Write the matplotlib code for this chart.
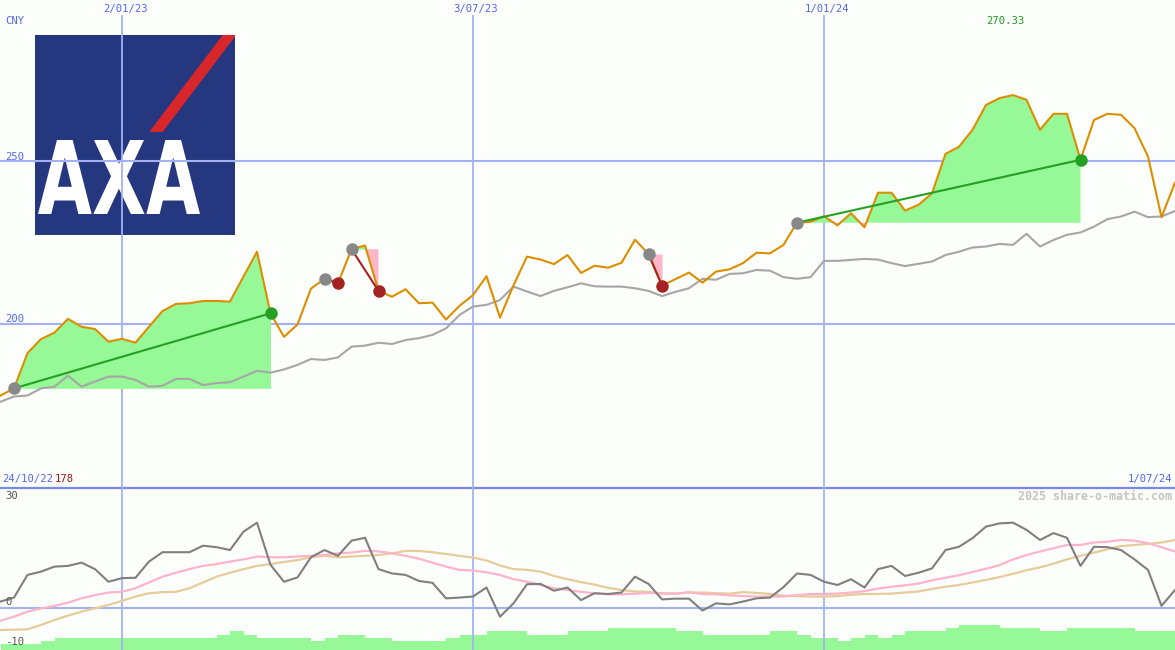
import numpy as np
import pandas as pd
import matplotlib
matplotlib.use('Agg')
import matplotlib.pyplot as plt
import matplotlib.dates as mdates
from matplotlib.textpath import TextPath
from matplotlib.patches import PathPatch, Rectangle, Polygon
from matplotlib.font_manager import FontProperties
from matplotlib.transforms import Affine2D

# ---------------- data ----------------
first_date = '2022-10-31'
n_weeks = 88

price = [178.2, 180.4, 191.2, 195.5, 197.5, 201.7, 199.3, 198.6, 194.7, 195.6,
         194.4, 199.3, 204.1, 206.3, 206.5, 207.2, 207.2, 207.0, 214.7, 222.3,
         203.4, 196.2, 200.0, 211.0, 214.0, 212.6, 223.1, 224.2, 210.3, 208.5,
         210.8, 206.5, 206.7, 201.5, 205.7, 209.0, 214.8, 202.1, 212.0, 220.8,
         219.9, 218.5, 221.3, 215.8, 218.0, 217.4, 218.9, 226.0, 221.6, 211.9,
         213.9, 215.9, 212.8, 216.2, 216.9, 218.8, 222.0, 221.8, 224.4, 231.2,
         231.5, 233.2, 230.4, 234.1, 229.8, 240.4, 240.4, 234.9, 236.7, 240.2,
         252.3, 254.5, 259.7, 267.3, 269.4, 270.33, 268.9, 259.7, 264.6, 264.6,
         250.5, 262.7, 264.6, 264.3, 260.2, 251.5, 232.9, 243.5]

benchmark = [176.3, 177.9, 178.2, 180.4, 180.9, 184.3, 180.9, 182.5, 184.0, 184.0,
             183.0, 180.9, 181.2, 183.3, 183.3, 181.4, 182.0, 182.3, 184.0, 185.8,
             185.2, 186.2, 187.6, 189.4, 189.1, 189.9, 193.2, 193.5, 194.4, 194.0,
             195.2, 195.8, 196.8, 198.8, 202.9, 205.5, 206.0, 207.5, 211.6, 210.1,
             208.7, 210.3, 211.4, 212.6, 211.7, 211.6, 211.6, 211.1, 210.3, 208.7,
             210.0, 211.1, 214.0, 213.7, 215.5, 215.7, 216.7, 216.5, 214.5, 214.0,
             214.5, 219.5, 219.5, 219.8, 220.1, 219.9, 218.8, 217.9, 218.6, 219.3,
             221.3, 222.3, 223.6, 223.9, 224.7, 224.4, 227.8, 223.9, 225.9, 227.5,
             228.2, 230.0, 232.3, 233.1, 234.6, 232.9, 233.1, 234.8]

momentum = [1.7, 2.8, 9.1, 10.0, 11.4, 11.6, 12.5, 10.7, 7.2, 8.2,
            8.3, 12.8, 15.4, 15.4, 15.4, 17.2, 16.8, 16.0, 21.1, 23.6,
            11.9, 7.2, 8.4, 14.0, 16.0, 14.4, 18.6, 19.4, 10.7, 9.5,
            9.1, 7.4, 6.9, 2.6, 2.8, 3.1, 5.6, -2.5, 1.2, 6.5,
            6.6, 4.7, 5.6, 2.1, 4.0, 3.8, 4.2, 8.6, 6.6, 2.3,
            2.5, 2.5, -0.8, 1.2, 0.9, 1.7, 2.6, 2.8, 5.7, 9.5,
            9.1, 7.2, 6.3, 7.9, 5.6, 10.7, 11.6, 8.8, 9.7, 10.9,
            16.0, 16.9, 19.3, 22.5, 23.4, 23.6, 21.6, 18.8, 20.7, 19.4,
            11.6, 16.9, 16.8, 16.0, 13.4, 10.5, 0.5, 4.9]

ma_fast = [-3.6, -2.5, -1.1, -0.2, 0.5, 1.4, 2.6, 3.5, 4.2, 4.4,
           5.4, 7.0, 8.6, 9.7, 10.7, 11.6, 12.1, 12.8, 13.4, 14.2,
           14.0, 14.0, 14.2, 14.4, 14.6, 15.1, 15.3, 15.8, 15.6, 15.1,
           14.4, 13.6, 12.5, 11.4, 10.5, 10.3, 9.8, 9.1, 7.9, 7.2,
           6.3, 5.4, 4.9, 4.4, 4.0, 3.7, 3.7, 3.9, 4.1, 4.0,
           3.9, 4.3, 3.8, 3.7, 3.4, 3.2, 3.1, 3.1, 3.1, 3.5,
           3.8, 3.8, 3.9, 4.2, 4.6, 5.3, 5.8, 6.2, 6.7, 7.6,
           8.3, 9.0, 9.9, 10.8, 11.8, 13.4, 14.6, 15.6, 16.5, 17.4,
           17.4, 18.1, 18.3, 18.8, 18.6, 17.9, 16.8, 15.6]

ma_slow = [-6.2, -6.1, -6.0, -4.8, -3.4, -2.2, -1.1, -0.2, 0.75, 1.9,
           3.1, 4.0, 4.3, 4.4, 5.4, 7.0, 8.6, 9.7, 10.7, 11.6,
           12.1, 12.7, 13.2, 14.0, 14.4, 14.0, 14.2, 14.4, 14.6, 15.1,
           15.75, 15.75, 15.4, 14.9, 14.4, 13.9, 13.1, 11.7, 10.7, 10.5,
           10.0, 8.8, 7.9, 7.1, 6.4, 5.5, 4.9, 4.5, 4.4, 3.9,
           3.9, 4.2, 4.2, 4.0, 3.9, 4.3, 4.1, 3.8, 3.3, 3.2,
           3.1, 3.1, 3.2, 3.6, 3.8, 3.8, 3.9, 4.2, 4.5, 5.2,
           5.8, 6.3, 7.0, 7.7, 8.5, 9.4, 10.4, 11.2, 12.2, 13.4,
           14.4, 15.3, 16.2, 17.1, 17.4, 17.7, 18.1, 18.8]

volume = [6, 6, 6, 9, 12, 12, 12, 12, 12, 12,
          12, 12, 12, 12, 12, 12, 15.5, 19, 15.5, 12,
          12, 12, 12, 9, 12, 15.5, 15.5, 12, 12, 9,
          9, 9, 9, 12, 15.5, 15.5, 19, 19, 19, 15.5,
          15.5, 15.5, 19, 19, 19, 22, 22, 22, 22, 22,
          19, 19, 15.5, 15.5, 15.5, 15.5, 15.5, 19, 19, 15.5,
          12, 12, 9, 12, 15.5, 12, 15.5, 19, 19, 19,
          22, 25, 25, 25, 22, 22, 22, 19, 19, 22,
          22, 22, 22, 22, 19, 19, 19, 19]

entry_dates = ['2022-11-07', '2023-04-17', '2023-05-01', '2023-10-02', '2023-12-18']
exit_dates = ['2023-03-20', '2023-04-24', '2023-05-15', '2023-10-09', '2024-05-13']

grid_dates = ['2023-01-02', '2023-07-03', '2024-01-01']
grid_labels = ['2/01/23', '3/07/23', '1/01/24']
price_levels = [250, 200]
osc_levels = [30, 0, -10]
start_label = '24/10/22'
end_label = '1/07/24'
low_label = '178'
high_label = '270.33'

# ---------------- styling ----------------
W, H = 1175, 650
BG = '#fbfefb'
BLUE_TXT = '#5566ee'
GRID = '#a4b2f4'
SEP = '#7a88e8'
ORANGE = '#dd8e00'
BENCH = '#a6a6a6'
GREEN_FILL = '#96f896'
PINK_FILL = '#ffb6c9'
GREEN = '#25a025'
RED = '#a52222'
MARK_GRAY = '#888888'
MONO = 'DejaVu Sans Mono'

dates = pd.date_range(first_date, periods=n_weeks, freq='7D')
x = mdates.date2num(dates)
price_a = np.array(price)
base0 = mdates.date2num(pd.Timestamp('2022-10-24'))
xlim = (base0 + 6.74, mdates.date2num(pd.Timestamp('2024-07-01')))

fig = plt.figure(figsize=(W / 100, H / 100), dpi=100, facecolor=BG)

def px(xp, yp):
    return xp / W, 1 - yp / H

top_h = 487
ax = fig.add_axes([0, (H - top_h) / H, 1, top_h / H])
axb = fig.add_axes([0, 0, 1, (H - top_h) / H])
vax = fig.add_axes([0, 0, 1, (H - top_h) / H])
for a in (ax, axb, vax):
    a.set_xlim(*xlim)
    a.axis('off')
ax.set_ylim(150.15, 299.5)
axb.set_ylim(-11.75, 33.5)
vax.set_ylim(0, 163)
ax.set_zorder(3)
axb.set_zorder(2)
vax.set_zorder(1)
for a in (ax, axb, vax):
    a.patch.set_visible(False)

# grid lines
for lvl in price_levels:
    ax.axhline(lvl, color=GRID, lw=1.5, zorder=1)
axb.axhline(0, color=GRID, lw=1.5, zorder=1)
gx = mdates.date2num(pd.to_datetime(grid_dates))
for g in gx:
    ax.plot([g, g], [150.15, 250 + (161.5 - 16) / 3.26], color=GRID, lw=1.3, zorder=1)
    axb.axvline(g, color=GRID, lw=1.3, zorder=1)
fig.add_artist(plt.Line2D([0, 1], [1 - 487.5 / H] * 2, color=SEP, lw=1.6))

# trades
ent = mdates.date2num(pd.to_datetime(entry_dates))
exi = mdates.date2num(pd.to_datetime(exit_dates))
for e, q in zip(ent, exi):
    i = int(np.argmin(np.abs(x - e)))
    j = int(np.argmin(np.abs(x - q)))
    d = x[i:j + 1]
    p = price_a[i:j + 1]
    b = p[0]
    ax.fill_between(d, p, b, where=p >= b, interpolate=True, color=GREEN_FILL, lw=0, zorder=2)
    ax.fill_between(d, p, b, where=p <= b, interpolate=True, color=PINK_FILL, lw=0, zorder=2)
    win = p[-1] > p[0]
    ax.plot([d[0], d[-1]], [p[0], p[-1]], color=GREEN if win else RED, lw=1.5, zorder=5)
    ax.plot(d[0], p[0], 'o', ms=9, color=MARK_GRAY, mec='none', zorder=6)
    ax.plot(d[-1], p[-1], 'o', ms=9, color=GREEN if win else RED, mec='none', zorder=6)

ax.plot(x, benchmark, color=BENCH, lw=1.5, zorder=3)
ax.plot(x, price, color=ORANGE, lw=1.5, zorder=4)

# lower panel
vax.bar(x, volume, width=7, align='edge', color=GREEN_FILL, lw=0)
axb.plot(x, ma_slow, color='#e6cc9a', lw=1.6, zorder=3)
axb.plot(x, ma_fast, color='#ffb4c8', lw=1.6, zorder=3)
axb.plot(x, momentum, color='#7f7f7f', lw=1.5, zorder=4)

# texts
fs = 7.6
fig.text(*px(5, 21), 'CNY', color=BLUE_TXT, fontsize=fs, family=MONO, va='center', ha='left')
fig.text(*px(5, 157), str(price_levels[0]), color=BLUE_TXT, fontsize=fs, family=MONO, va='center')
fig.text(*px(5, 319), str(price_levels[1]), color=BLUE_TXT, fontsize=fs, family=MONO, va='center')
for g, lab in zip(gx, grid_labels):
    xp = (g - xlim[0]) / (xlim[1] - xlim[0]) * W
    fig.text(*px(xp + 3, 9), lab, color=BLUE_TXT, fontsize=fs, family=MONO, va='center', ha='center')
t = fig.text(*px(2, 479), start_label, color=BLUE_TXT, fontsize=fs, family=MONO, va='center', ha='left')
fig.text(*px(55, 479), low_label, color='#a01818', fontsize=fs, family=MONO, va='center', ha='left')
fig.text(*px(1172, 479), end_label, color=BLUE_TXT, fontsize=fs, family=MONO, va='center', ha='right')
fig.text(*px(1005, 21), high_label, color='#229922', fontsize=fs, family=MONO, va='center', ha='center')
fig.text(*px(1172, 496), '2025 share-o-matic.com', color='#c4c4c4', fontsize=8.4, family=MONO,
         weight='bold', va='center', ha='right')
osc_y = {30: 496, 0: 602, -10: 642}
for lvl in osc_levels:
    fig.text(*px(5, osc_y[lvl]), str(lvl), color='#555555', fontsize=fs, family=MONO, va='center', ha='left')

# logo
lax = fig.add_axes([35 / W, 1 - 235 / H, 200 / W, 200 / H])
lax.set_xlim(0, 200)
lax.set_ylim(200, 0)
lax.axis('off')
lax.add_patch(Rectangle((0, 0), 200, 200, color='#25377f', lw=0))
lax.add_patch(Polygon([(187.7, 0), (200, 0), (200, 1.5), (127.6, 97), (114.2, 97)],
                      closed=True, color='#d9262a', lw=0))
tp = TextPath((0, 0), 'AXA', size=100, prop=FontProperties(family='DejaVu Sans', weight='bold'))
bb = tp.get_extents()
sx = 162 / bb.width
sy = 74 / bb.height
tr = Affine2D().translate(-bb.x0, -bb.y0).scale(sx, -sy).translate(3, 179)
lax.add_patch(PathPatch(tr.transform_path(tp), color='white', lw=0))

fig.savefig('out.png', dpi=100, facecolor=BG)
